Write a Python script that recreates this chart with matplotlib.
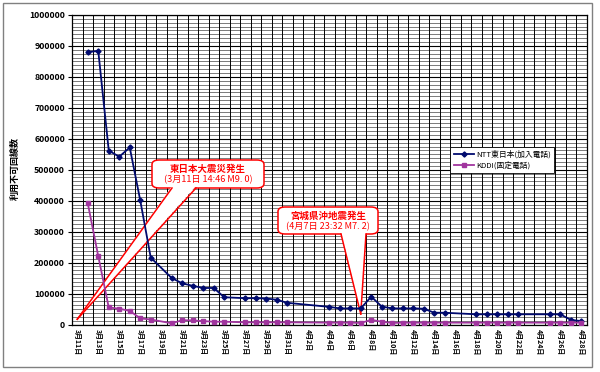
import matplotlib
matplotlib.use('Agg')
import matplotlib.pyplot as plt
import numpy as np
from matplotlib.patches import FancyBboxPatch, Polygon, Rectangle
from matplotlib.lines import Line2D

plt.rcParams['font.family'] = ['Noto Sans CJK JP', 'DejaVu Sans']

# ---------------- data ----------------
categories = [
    '3月11日', '3月12日', '3月13日', '3月14日', '3月15日', '3月16日', '3月17日',
    '3月18日', '3月19日', '3月20日', '3月21日', '3月22日', '3月23日', '3月24日',
    '3月25日', '3月26日', '3月27日', '3月28日', '3月29日', '3月30日', '3月31日',
    '4月1日', '4月2日', '4月3日', '4月4日', '4月5日', '4月6日', '4月7日',
    '4月8日', '4月9日', '4月10日', '4月11日', '4月12日', '4月13日', '4月14日',
    '4月15日', '4月16日', '4月17日', '4月18日', '4月19日', '4月20日', '4月21日',
    '4月22日', '4月23日', '4月24日', '4月25日', '4月26日', '4月27日', '4月28日',
]

obs_dates = [
    '3月12日', '3月13日', '3月14日', '3月15日', '3月16日', '3月17日', '3月18日',
    '3月20日', '3月21日', '3月22日', '3月23日', '3月24日', '3月25日',
    '3月27日', '3月28日', '3月29日', '3月30日', '3月31日',
    '4月4日', '4月5日', '4月6日', '4月7日', '4月8日', '4月9日', '4月10日',
    '4月11日', '4月12日', '4月13日', '4月14日', '4月15日',
    '4月18日', '4月19日', '4月20日', '4月21日', '4月22日',
    '4月25日', '4月26日', '4月27日', '4月28日',
]

ntt_values = [
    880000, 884000, 562000, 542000, 572000, 401000, 216000,
    150000, 133000, 125000, 118000, 118000, 88000,
    85000, 85000, 84000, 80000, 70000,
    57000, 52000, 52000, 52000, 90000, 58000, 52000,
    52000, 52000, 51000, 38000, 38000,
    33000, 33000, 33000, 33000, 33000,
    33000, 33000, 15000, 11000,
]

kddi_values = [
    392000, 221000, 55000, 51000, 44000, 20000, 16000,
    4000, 14000, 13000, 11000, 9000, 9000,
    7000, 7000, 7000, 7000, 7000,
    6000, 6000, 6000, 5000, 15000, 9000, 5000,
    6000, 6000, 6000, 6000, 6000,
    6000, 6000, 6000, 6000, 6000,
    6000, 6000, 6000, 6000,
]

series_names = ['NTT東日本(加入電話)', 'KDDI(固定電話)']
y_label = '利用不可回線数'

quake1_date = '3月11日'
quake1_level = 17000
quake1_text = ['東日本大震災発生', '(3月11日 14:46 M9. 0)']
quake2_date = '4月7日'
quake2_level = 34000
quake2_text = ['宮城県沖地震発生', '(4月7日 23:32 M7. 2)']

# ---------------- figure ----------------
W, H = 600, 372
fig = plt.figure(figsize=(W / 100, H / 100), dpi=100)
fig.patch.set_facecolor('white')


def px(x, y):
    return (x / W, 1 - y / H)


ax = fig.add_axes([72 / W, 1 - 324.5 / H, (586.5 - 72) / W, (324.5 - 15) / H])
ax.set_xlim(-0.5, len(categories) - 0.5)
ax.set_ylim(0, 1000000)

x_idx = [categories.index(d) for d in obs_dates]

# ticks
ax.set_xticks(np.arange(0, len(categories), 2))
ax.set_xticklabels(categories[::2], rotation=-90, fontsize=5, fontweight='bold')
major_y = np.arange(0, 1000001, 100000)
ax.set_yticks(major_y)
ax.set_yticklabels([str(v) for v in major_y], fontsize=6.3, fontweight='bold')
ax.tick_params(axis='x', which='both', length=0, pad=3)
ax.tick_params(axis='y', which='major', length=3, width=0.8, pad=2)

# gridlines
minor_y = [v for v in np.arange(0, 1000000, 12500) if v % 100000 != 0]
ax.hlines(minor_y, -0.5, len(categories) - 0.5, colors='#7a7a7a', lw=0.7,
          zorder=0.4)
ax.hlines(major_y, -0.5, len(categories) - 0.5, colors='black', lw=0.8,
          zorder=0.5)
ax.vlines(np.arange(-0.5, len(categories), 1), 0, 1000000, colors='black',
          lw=0.7, zorder=0.6)
for s in ax.spines.values():
    s.set_color('black')
    s.set_linewidth(0.9)

# series
ax.plot(x_idx, ntt_values, color='#000a6e', lw=1.3, marker='D', ms=2.6,
        zorder=3, label=series_names[0])
ax.plot(x_idx, kddi_values, color='#a0359e', lw=1.3, marker='s', ms=3.4,
        zorder=3, label=series_names[1])

leg = ax.legend(loc='upper left', bbox_to_anchor=px(450, 146.5),
                bbox_transform=fig.transFigure, fontsize=5.6, frameon=True,
                fancybox=False, edgecolor='black', handlelength=2.6,
                borderpad=0.45, labelspacing=0.35, handletextpad=0.3,
                borderaxespad=0, framealpha=1)
leg.get_frame().set_linewidth(0.6)
leg.set_zorder(6)


# callouts
def callout(box, base, tip_data, lines):
    x0, y0, x1, y1 = box
    tf = fig.transFigure
    tip_disp = ax.transData.transform(tip_data)
    tip = tf.inverted().transform(tip_disp)
    bx0, bx1 = base
    wedge = Polygon([px(bx0, y1 - 2), tuple(tip), px(bx1, y1 - 2)], closed=True,
                    facecolor='white', edgecolor='none', transform=tf,
                    clip_on=False, zorder=2.2)
    ax.add_patch(wedge)
    r = FancyBboxPatch(px(x0, y1), (x1 - x0) / W, (y1 - y0) / H,
                       boxstyle='round,pad=0,rounding_size=0.012',
                       facecolor='white', edgecolor='#ff0000', lw=1.1,
                       transform=tf, clip_on=False, zorder=2.1)
    ax.add_patch(r)
    for bx in (bx0, bx1):
        ax.add_line(Line2D([bx / W, tip[0]], [1 - y1 / H, tip[1]],
                           color='#ff0000', lw=1.1, transform=tf,
                           clip_on=False, zorder=2.3))
    cx = (x0 + x1) / 2
    ax.text(*px(cx, y0 + 8.5), lines[0], transform=tf, ha='center',
            va='center', color='#ff0000', fontsize=6.8, fontweight='bold',
            zorder=4)
    ax.text(*px(cx, y0 + 20), lines[1], transform=tf, ha='center',
            va='center', color='#ff0000', fontsize=6.6, zorder=4)


callout((152, 160, 264, 188), (172, 196),
        (categories.index(quake1_date), quake1_level), quake1_text)
callout((278, 207, 378, 234), (341, 366),
        (categories.index(quake2_date), quake2_level), quake2_text)

fig.text(*px(15, 168), y_label, rotation=90, fontsize=6.5, fontweight='bold',
         ha='center', va='center')

fig.patches.append(Rectangle(px(3, 367), 589 / W, 364 / H, fill=False,
                             edgecolor='#808080', lw=1.0,
                             transform=fig.transFigure))

fig.savefig('out.png', dpi=100)
